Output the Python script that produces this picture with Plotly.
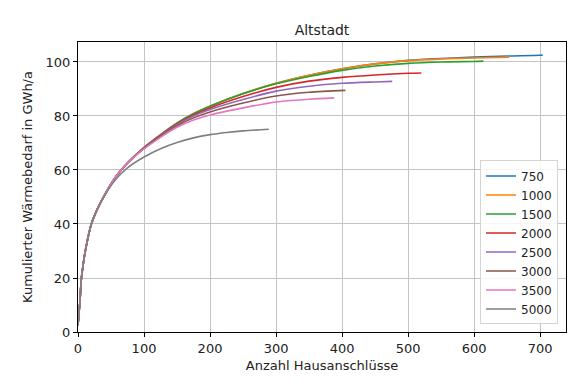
import plotly.graph_objects as go

# Shared early part (all curves overlap up to ~x=75)
x_start = [0, 1, 2, 3, 5, 7, 10, 15, 20, 25, 30, 40, 50, 60, 75]
y_start = [2.5, 5.5, 8.5, 11.5, 19.5, 23.5, 28.5, 34.8, 39.8, 43.1, 45.9, 50.6, 54.8, 58.4, 62.6]

x_750 = [100, 125, 150, 175, 200, 250, 300, 350, 400, 450, 500, 550, 600, 650, 700, 704]
y_750 = [68.3, 73.0, 77.3, 80.8, 83.6, 88.3, 92.1, 95.1, 97.5, 99.3, 100.6, 101.3, 101.8, 102.2, 102.5, 102.6]

x_1000 = [100, 125, 150, 175, 200, 250, 300, 350, 400, 450, 500, 550, 600, 653]
y_1000 = [68.3, 73.0, 77.3, 80.8, 83.6, 88.3, 92.1, 95.1, 97.5, 99.3, 100.5, 101.1, 101.5, 101.8]

x_1500 = [100, 125, 150, 175, 200, 250, 300, 350, 400, 450, 500, 550, 600, 614]
y_1500 = [68.3, 73.0, 77.3, 80.8, 83.6, 88.2, 91.9, 94.6, 96.9, 98.5, 99.5, 100.0, 100.2, 100.3]

x_2000 = [100, 125, 150, 175, 200, 250, 300, 350, 400, 450, 500, 520]
y_2000 = [68.2, 72.9, 77.1, 80.4, 83.0, 87.2, 90.6, 92.9, 94.3, 95.2, 95.8, 95.9]

x_2500 = [100, 125, 150, 175, 200, 250, 300, 350, 400, 450, 476]
y_2500 = [68.1, 72.7, 76.8, 80.0, 82.4, 86.1, 89.2, 91.0, 92.1, 92.6, 92.8]

x_3000 = [100, 125, 150, 175, 200, 250, 300, 350, 405]
y_3000 = [68.0, 72.5, 76.4, 79.3, 81.5, 84.8, 87.4, 88.8, 89.5]

x_3500 = [100, 125, 150, 175, 200, 250, 300, 350, 388]
y_3500 = [67.8, 72.1, 75.8, 78.5, 80.4, 83.0, 85.2, 86.2, 86.7]

x_5000 = [40, 50, 60, 75, 100, 125, 150, 175, 200, 225, 250, 289]
y_5000 = [50.3, 54.2, 57.3, 60.8, 64.8, 67.9, 70.2, 71.9, 73.1, 73.9, 74.5, 75.1]

names = ["750", "1000", "1500", "2000", "2500", "3000", "3500", "5000"]
colors = ["#1f77b4", "#ff7f0e", "#2ca02c", "#d62728", "#9467bd", "#8c564b", "#e377c2", "#7f7f7f"]
tails = [(x_750, y_750), (x_1000, y_1000), (x_1500, y_1500), (x_2000, y_2000),
         (x_2500, y_2500), (x_3000, y_3000), (x_3500, y_3500), (x_5000, y_5000)]

fig = go.Figure()
for name, col, (xt, yt) in zip(names, colors, tails):
    head_x = [v for v in x_start if v < xt[0]]
    head_y = y_start[:len(head_x)]
    fig.add_trace(go.Scatter(
        x=head_x + xt, y=head_y + yt, mode="lines", name=name,
        line=dict(color=col, width=1.6, shape="spline", smoothing=0.8),
    ))

font = "DejaVu Sans, Verdana, sans-serif"
fig.update_layout(
    width=578, height=383,
    margin=dict(l=70, r=20, t=34, b=59),
    paper_bgcolor="white", plot_bgcolor="white",
    font=dict(family=font, size=13, color="#222222"),
    title=dict(text="Altstadt", x=0.5, xref="paper", xanchor="center",
               y=1 - 22 / 383, yanchor="middle", font=dict(size=14, color="#222222")),
    showlegend=True,
    legend=dict(x=0.9836, y=0.026, xanchor="right", yanchor="bottom",
                bgcolor="rgba(255,255,255,0.85)", bordercolor="#d5d5d5", borderwidth=1,
                font=dict(size=12, color="#222222"), tracegroupgap=0),
)
fig.update_xaxes(
    range=[0, 739.2], tickvals=[0, 100, 200, 300, 400, 500, 600, 700],
    showgrid=True, gridcolor="#c4c4c4", gridwidth=1,
    showline=True, linecolor="black", linewidth=1, mirror=True,
    ticks="outside", ticklen=4, tickcolor="black", zeroline=False,
    tickfont=dict(size=13),
    title=dict(text="Anzahl Hausanschlüsse", standoff=6, font=dict(size=13)),
)
fig.update_yaxes(
    range=[0, 107.4], tickvals=[0, 20, 40, 60, 80, 100],
    showgrid=True, gridcolor="#c4c4c4", gridwidth=1,
    showline=True, linecolor="black", linewidth=1, mirror=True,
    ticks="outside", ticklen=4, tickcolor="black", zeroline=False,
    tickfont=dict(size=13),
    title=dict(text="Kumulierter Wärmebedarf in GWh/a", standoff=10, font=dict(size=13)),
)

fig.write_html("out.html")
